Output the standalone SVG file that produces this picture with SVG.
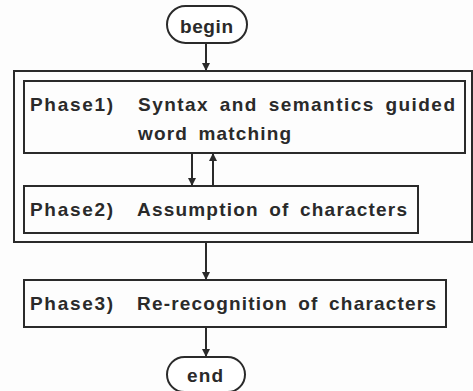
<svg xmlns="http://www.w3.org/2000/svg" width="473" height="391" viewBox="0 0 473 391">
<style>
.box{fill:none;stroke:#2a2a2a;stroke-width:2}
.pill{fill:#fff;stroke:#2a2a2a;stroke-width:2}
.t{font-family:"Liberation Sans",Arial,sans-serif;font-size:19px;font-weight:bold;fill:#2a2a2a;word-spacing:4px}
.c{stroke:#2a2a2a;stroke-width:2;fill:none;marker-end:url(#ah)}
</style>
<defs>
<marker id="ah" viewBox="0 0 8 10" refX="8" refY="5" markerWidth="8" markerHeight="10" orient="auto" markerUnits="userSpaceOnUse">
<path d="M0,1 L8,5 L0,9 Z" fill="#2a2a2a"/>
</marker>
</defs>
<rect width="473" height="391" fill="#fdfdfd"/>
<g id="begin">
<rect class="pill" x="167" y="6" width="80" height="37" rx="18.5"/>
<text class="t" x="180" y="33" textLength="53" lengthAdjust="spacing">begin</text>
</g>
<g id="outer">
<rect class="box" x="14" y="71" width="458" height="171"/>
</g>
<g id="phase1">
<rect class="box" x="24" y="81" width="441" height="72"/>
<text class="t" x="30" y="111" textLength="83" lengthAdjust="spacing">Phase1)</text>
<text class="t" x="138" y="111" textLength="317" lengthAdjust="spacing">Syntax and semantics guided</text>
<text class="t" x="138" y="140" textLength="153" lengthAdjust="spacing">word matching</text>
</g>
<g id="phase2">
<rect class="box" x="24" y="186" width="394" height="47"/>
<text class="t" x="30" y="216" textLength="83" lengthAdjust="spacing">Phase2)</text>
<text class="t" x="137" y="216" textLength="270" lengthAdjust="spacing">Assumption of characters</text>
</g>
<g id="phase3">
<rect class="box" x="24" y="280" width="422" height="47"/>
<text class="t" x="30" y="310" textLength="83" lengthAdjust="spacing">Phase3)</text>
<text class="t" x="137" y="310" textLength="299" lengthAdjust="spacing">Re-recognition of characters</text>
</g>
<g id="end">
<rect class="pill" x="167" y="357" width="78" height="35" rx="17.5"/>
<text class="t" x="187" y="382" textLength="36" lengthAdjust="spacing">end</text>
</g>
<g id="connectors">
<line class="c" x1="206" y1="43" x2="206" y2="71"/>
<line class="c" x1="192" y1="153" x2="192" y2="186"/>
<line class="c" x1="213" y1="186" x2="213" y2="153"/>
<line class="c" x1="206" y1="242" x2="206" y2="280"/>
<line class="c" x1="206" y1="327" x2="206" y2="357"/>
</g>
</svg>
